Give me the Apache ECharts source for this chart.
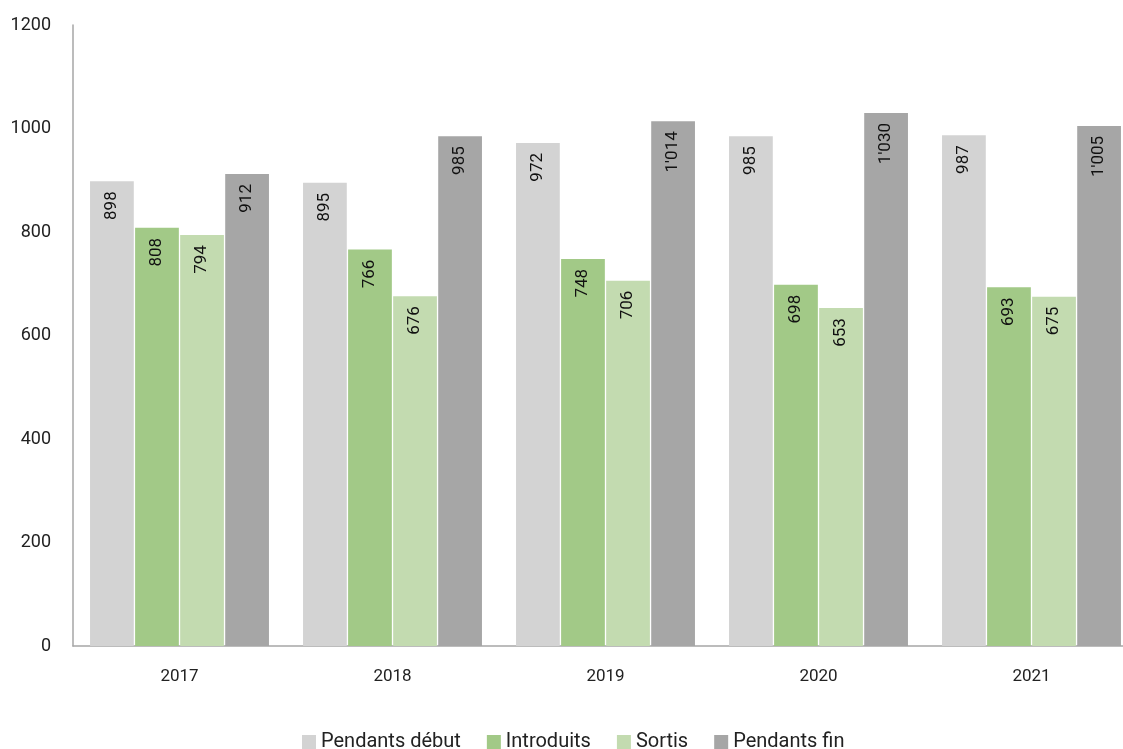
<!DOCTYPE html>
<html>
<head>
<meta charset="utf-8">
<script src="https://cdn.jsdelivr.net/npm/echarts@6/dist/echarts.min.js"></script>
<style>
  html, body { margin: 0; padding: 0; background: #fff; overflow: hidden; }
  #chart { width: 1138px; height: 749px; }
</style>
</head>
<body>
<div id="chart"></div>
<script>
const years = ["2017", "2018", "2019", "2020", "2021"];
const pendantsDebut = [898, 895, 972, 985, 987];
const introduits = [808, 766, 748, 698, 693];
const sortis = [794, 676, 706, 653, 675];
const pendantsFin = [912, 985, 1014, 1030, 1005];
const yTicks = [0, 200, 400, 600, 800, 1000, 1200];

const font = '"Roboto", sans-serif';

function fmt(v) {
  // séparateur de milliers suisse
  return String(v).replace(/\B(?=(\d{3})+(?!\d))/g, "'");
}

function makeSeries(name, data, color) {
  return {
    name: name,
    type: "bar",
    data: data,
    barGap: "3%",
    barCategoryGap: "16%",
    itemStyle: { color: color },
    label: {
      show: true,
      position: "insideTop",
      rotate: 90,
      align: "right",
      verticalAlign: "middle",
      distance: 10,
      color: "#111",
      fontFamily: font,
      fontSize: 17,
      formatter: p => fmt(p.value)
    }
  };
}

const chart = echarts.init(document.getElementById("chart"));
chart.setOption({
  animation: false,
  textStyle: { fontFamily: font },
  grid: { left: 73, right: 0, top: 25, bottom: 103, containLabel: false },
  legend: {
    top: 727,
    left: 297,
    itemWidth: 14,
    itemHeight: 14,
    itemGap: 26,
    icon: "rect",
    textStyle: { fontFamily: font, fontSize: 20, color: "#222" },
    data: ["Pendants début", "Introduits", "Sortis", "Pendants fin"]
  },
  xAxis: {
    type: "category",
    data: years,
    axisLine: { lineStyle: { color: "#a6a6a6", width: 1.5 } },
    axisTick: { show: false },
    axisLabel: { color: "#222", fontSize: 17, margin: 22, fontFamily: font }
  },
  yAxis: {
    type: "value",
    min: yTicks[0],
    max: yTicks[yTicks.length - 1],
    interval: 200,
    axisLine: { show: true, lineStyle: { color: "#a6a6a6", width: 1.5 } },
    axisTick: { show: false },
    splitLine: { show: false },
    axisLabel: { color: "#222", fontSize: 18, margin: 22, fontFamily: font, formatter: v => String(v) }
  },
  series: [
    makeSeries("Pendants début", pendantsDebut, "#d3d3d3"),
    makeSeries("Introduits", introduits, "#a2c987"),
    makeSeries("Sortis", sortis, "#c3dbb0"),
    makeSeries("Pendants fin", pendantsFin, "#a6a6a6")
  ]
});
</script>
</body>
</html>
